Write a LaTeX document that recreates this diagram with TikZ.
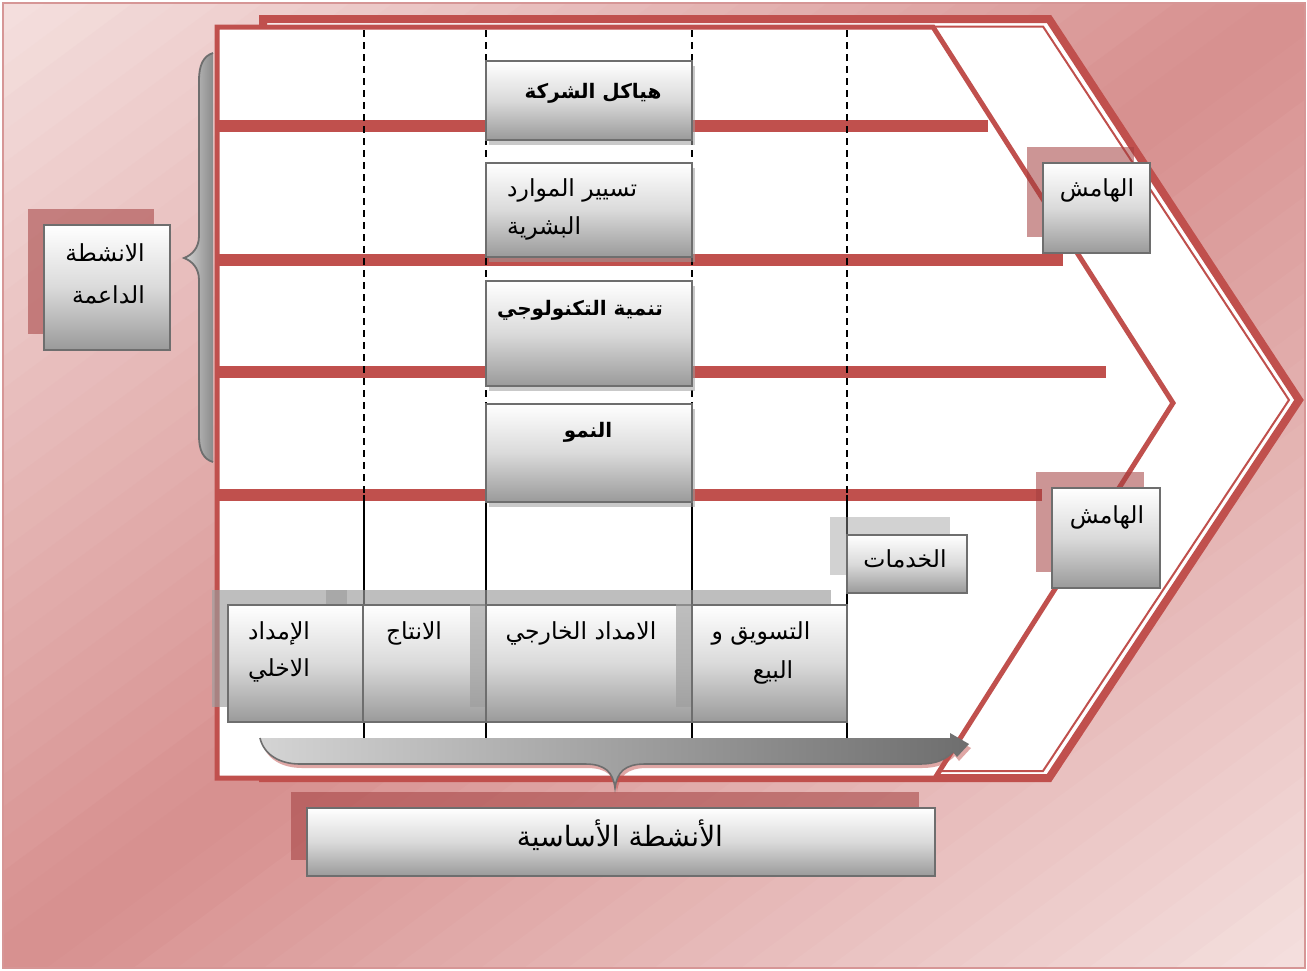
\documentclass[tikz,border=0pt]{standalone}
\usepackage{fontspec}
\newfontfamily\arfont[Script=Arabic]{DejaVu Sans}
\TeXXeTstate=1
\usetikzlibrary{shadows}
\definecolor{cred}{RGB}{192,80,77}
\definecolor{bglight}{RGB}{244,224,223}
\definecolor{bgdark}{RGB}{215,143,142}
\definecolor{bgborder}{RGB}{214,150,150}
\definecolor{boxline}{RGB}{110,110,110}
\definecolor{boxbot}{RGB}{154,154,154}
\definecolor{boxmid}{RGB}{218,218,218}
\definecolor{shgray}{RGB}{157,157,157}
\definecolor{shpink}{RGB}{163,63,63}
\definecolor{brlight}{RGB}{212,212,212}
\definecolor{brmid}{RGB}{195,195,195}
\definecolor{brdark}{RGB}{110,110,110}
\begin{document}
\begin{tikzpicture}[x=1pt,y=-1pt,
  gbox/.style={draw=boxline, line width=2.2pt, inner sep=0pt,
    top color=white, bottom color=boxbot, middle color=boxmid},
  sbox/.style={gbox, general shadow={shadow xshift=3pt, shadow yshift=-5pt, fill=shgray, opacity=0.55}},
  pbox/.style={gbox, general shadow={shadow xshift=-16pt, shadow yshift=15pt, fill=shgray, opacity=0.66}},
  kbox/.style={gbox, general shadow={shadow xshift=-16pt, shadow yshift=16pt, fill=shpink, opacity=0.55}},
  cbox/.style={gbox, general shadow={shadow xshift=-17pt, shadow yshift=18pt, fill=shgray, opacity=0.45}},
  rbar/.style={fill=cred},
  vdash/.style={draw=black, line width=1.4pt, dash pattern=on 7pt off 5pt},
  vsolid/.style={draw=black, line width=1.4pt},
  artxt/.style={inner sep=0pt, font={\arfont\fontsize{23.5}{28}\selectfont}},
  arbold/.style={inner sep=0pt, font={\arfont\bfseries\fontsize{20}{24}\selectfont}},
  arbig/.style={inner sep=0pt, font={\arfont\fontsize{28}{33}\selectfont}}
]
\useasboundingbox (0,0) rectangle (1307,970);
% background: diagonal gradient built from strips
\begin{scope}
  \clip (3,3) rectangle (1305,968);
  \foreach \i in {0,...,59}{
    \pgfmathsetmacro{\ua}{\i/30}
    \pgfmathsetmacro{\ub}{(\i+1.15)/30}
    \pgfmathsetmacro{\tt}{round(100*abs(1-(\i+0.5)/30))}
    \fill[bglight!\tt!bgdark]
      ({3+\ua*1302},3) -- ({3+\ub*1302},3) -- (3,{3+\ub*965}) -- (3,{3+\ua*965}) -- cycle;
  }
\end{scope}
\draw[bgborder, line width=2pt] (3,3) rectangle (1305,968);

% outer chevron with double border
\draw[cred, line width=8pt, fill=white, line join=miter] (263,19) -- (1049,19) -- (1299,400) -- (1049,778) -- (263,778) -- cycle;
\draw[cred, line width=2pt, line join=miter] (263,26.5) -- (1043,26.5) -- (1289,400) -- (1043,771) -- (263,771);

% inner pentagon
\draw[cred, line width=5pt, fill=white, line join=miter] (217,27) -- (933,27) -- (1173,403) -- (935,778) -- (217,778) -- cycle;

% red bars
\fill[rbar] (217,120) rectangle (988,132);
\fill[rbar] (217,254) rectangle (1063,266);
\fill[rbar] (217,366) rectangle (1106,378);
\fill[rbar] (217,489) rectangle (1042,501);

% vertical lines
\foreach \xx in {364,486,692,847}{
  \draw[vdash] (\xx,30) -- (\xx,495);
  \draw[vsolid] (\xx,495) -- (\xx,738);
}

% left brace
\shade[left color=brlight, right color=brdark!80!white]
  (213,53) .. controls (203,56) and (199,66) .. (199,80) -- (199,236)
  .. controls (199,248) and (192,255) .. (184,258)
  .. controls (192,261) and (199,268) .. (199,280) -- (199,436)
  .. controls (199,450) and (203,459) .. (213,462) -- cycle;
\draw[brdark, line width=1.8pt]
  (213,53) .. controls (203,56) and (199,66) .. (199,80) -- (199,236)
  .. controls (199,248) and (192,255) .. (184,258)
  .. controls (192,261) and (199,268) .. (199,280) -- (199,436)
  .. controls (199,450) and (203,459) .. (213,462);

% support activity boxes
\node[sbox, minimum width=206pt, minimum height=79pt] (b1) at (589,100.5) {};
\node[sbox, minimum width=206pt, minimum height=94pt] (b2) at (589,210) {};
\node[sbox, minimum width=206pt, minimum height=105pt] (b3) at (589,333.5) {};
\node[sbox, minimum width=206pt, minimum height=98pt] (b4) at (589,453) {};

% left label box
\node[kbox, minimum width=126pt, minimum height=125pt] (sup) at (107,287.5) {};
% margin boxes
\node[kbox, minimum width=107pt, minimum height=90pt] (m1) at (1096.5,208) {};
\node[kbox, minimum width=108pt, minimum height=100pt] (m2) at (1106,538) {};
% services
\node[cbox, minimum width=120pt, minimum height=58pt] (srv) at (907,564) {};

% primary boxes
\node[pbox, minimum width=144pt, minimum height=117pt] (p2) at (414,663.5) {};
\node[pbox, minimum width=135pt, minimum height=117pt] (p1) at (295.5,663.5) {};
\node[pbox, minimum width=206pt, minimum height=117pt] (p3) at (589,663.5) {};
\node[pbox, minimum width=155pt, minimum height=117pt] (p4) at (769.5,663.5) {};

% bottom brace (shadow then body)
\fill[cred, opacity=0.5, xshift=2pt, yshift=-4pt]
  (260,738) -- (950,738) -- (950,733) -- (969,744) -- (957,757) -- (953,752)
  .. controls (945,760) and (935,764) .. (920,764) -- (645,764)
  .. controls (625,764) and (617,772) .. (615,788)
  .. controls (613,772) and (605,764) .. (585,764) -- (300,764)
  .. controls (280,764) and (264,755) .. (260,738) -- cycle;
\shade[left color=brlight, middle color=brmid, right color=brdark]
  (260,738) -- (950,738) -- (950,733) -- (969,744) -- (957,757) -- (953,752)
  .. controls (945,760) and (935,764) .. (920,764) -- (645,764)
  .. controls (625,764) and (617,772) .. (615,788)
  .. controls (613,772) and (605,764) .. (585,764) -- (300,764)
  .. controls (280,764) and (264,755) .. (260,738) -- cycle;
\draw[brdark, line width=1.6pt]
  (953,752) .. controls (945,760) and (935,764) .. (920,764) -- (645,764)
  .. controls (625,764) and (617,772) .. (615,788)
  .. controls (613,772) and (605,764) .. (585,764) -- (300,764)
  .. controls (280,764) and (264,755) .. (260,738);

% primary activities label
\node[kbox, minimum width=628pt, minimum height=68pt] (prim) at (621,842) {};

% texts
\node[arbold] (t1) at (593,93) {\beginR هياكل الشركة\endR};
\node[artxt, anchor=west] (t2a) at (507,190) {\beginR تسيير الموارد\endR};
\node[artxt, anchor=west] (t2b) at (507,228) {\beginR البشرية\endR};
\node[arbold] (t3) at (580,310) {\beginR تنمية التكنولوجي\endR};
\node[arbold] (t4) at (588,432) {\beginR النمو\endR};
\node[artxt, anchor=east] (s1) at (145,253) {\beginR الانشطة\endR};
\node[artxt, anchor=east] (s2) at (145,295) {\beginR الداعمة\endR};
\node[artxt] (mt1) at (1097,190) {\beginR الهامش\endR};
\node[artxt] (mt2) at (1107,517) {\beginR الهامش\endR};
\node[artxt] (st) at (905,559) {\beginR الخدمات\endR};
\node[artxt] (q1a) at (279,633) {\beginR الإمداد\endR};
\node[artxt] (q1b) at (279,670) {\beginR الاخلي\endR};
\node[artxt] (q2) at (414,633) {\beginR الانتاج\endR};
\node[artxt] (q3) at (581,633) {\beginR الامداد الخارجي\endR};
\node[artxt] (q4a) at (761,633) {\beginR التسويق و\endR};
\node[artxt] (q4b) at (773,672) {\beginR البيع\endR};
\node[arbig] (pt) at (620,835) {\beginR الأنشطة الأساسية\endR};
\end{tikzpicture}
\end{document}
